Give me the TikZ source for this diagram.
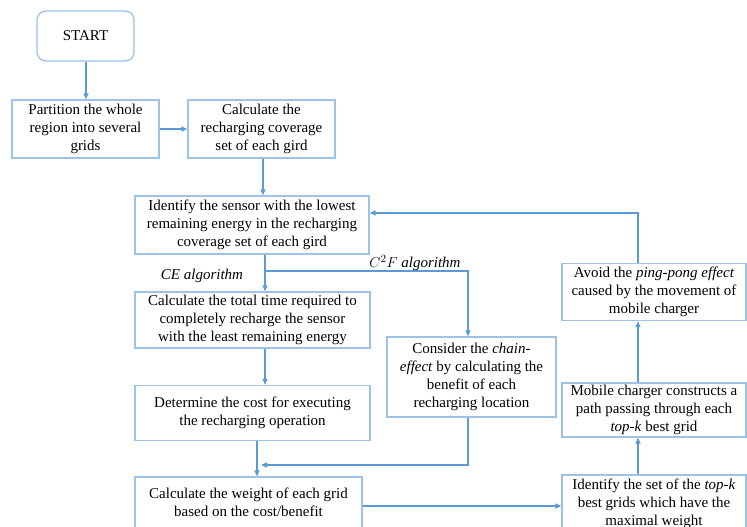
\documentclass[tikz,border=0pt]{standalone}
\usepackage{fontspec}
\setmainfont{Liberation Serif}
\usetikzlibrary{arrows.meta}
\definecolor{boxc}{HTML}{9DC3E6}
\definecolor{arrc}{HTML}{5B9BD5}
\begin{document}
\begin{tikzpicture}[x=1pt,y=-1pt,
  box/.style={draw=boxc,line width=1.3pt,fill=white,align=center,inner sep=1pt,
    font=\fontsize{15}{18}\selectfont},
  conn/.style={draw=arrc,line width=1.4pt},
  arr/.style={conn,-{Triangle[length=6pt,width=5pt]}},
  lab/.style={font=\fontsize{15}{17}\selectfont\itshape}]
\useasboundingbox (0,0) rectangle (747,527);
\clip (0,0) rectangle (747,527);
\fill[white] (0,0) rectangle (747,527);
\node[box,rounded corners=9pt,minimum width=97pt,minimum height=50pt] (start) at (85.5,36) {START};
\node[box,minimum width=147pt,minimum height=58pt] (part) at (85.5,129) {Partition the whole\\region into several\\grids};
\node[box,minimum width=147pt,minimum height=58pt] (cov) at (261.5,129) {Calculate the\\recharging coverage\\set of each gird};
\node[box,minimum width=234pt,minimum height=58pt] (ident) at (252,225) {Identify the sensor with the lowest\\remaining energy in the recharging\\coverage set of each gird};
\node[box,minimum width=235pt,minimum height=56pt] (total) at (252.5,320) {Calculate the total time required to\\completely recharge the sensor\\with the least remaining energy};
\node[box,minimum width=169pt,minimum height=80pt] (consider) at (471.5,377) {Consider the \textit{chain-}\\\textit{effect} by calculating the\\benefit of each\\recharging location};
\node[box,minimum width=235pt,minimum height=55pt] (cost) at (252.5,413) {Determine the cost for executing\\the recharging operation};
\node[box,minimum width=227pt,minimum height=64pt,text depth=14pt] (weight) at (248.5,509) {Calculate the weight of each grid\\based on the cost/benefit};
\node[box,minimum width=184pt,minimum height=58pt] (topk) at (654,504) {Identify the set of the \textit{top-k}\\best grids which have the\\maximal weight};
\node[box,minimum width=184pt,minimum height=54pt] (mobile) at (654,410) {Mobile charger constructs a\\path passing through each\\\textit{top-k} best grid};
\node[box,minimum width=184pt,minimum height=57pt] (avoid) at (654,292) {Avoid the \textit{ping-pong effect}\\caused by the movement of\\mobile charger};
\node[lab] (ce) at (202,276) {CE algorithm};
\node[lab] (cf) at (415,263) {$C^2F$ algorithm};
\coordinate (sx) at (86,0);
\coordinate (cx) at (263,0);
\coordinate (br) at (265,271);
\coordinate (c2) at (468,271);
\coordinate (mg) at (468,465);
\coordinate (mgend) at (261,465);
\coordinate (wx) at (257,0);
\coordinate (wy) at (0,506);
\coordinate (lp) at (638,213);
\draw[arr] (start.south -| sx) -- (part.north -| sx);
\draw[arr] (part) -- (cov);
\draw[arr] (cov.south -| cx) -- (ident.north -| cx);
\draw[conn] (ident.south -| br) -- (br);
\draw[arr] (br) -- (total.north -| br);
\draw[arr] (br) -- (c2) -- (c2 |- consider.north);
\draw[arr] (total.south -| br) -- (cost.north -| br);
\draw[arr] (cost.south -| wx) -- (weight.north -| wx);
\draw[arr] (consider.south -| mg) -- (mg) -- (mgend);
\draw[arr] (weight.east |- wy) -- (topk.west |- wy);
\draw[arr] (topk.north -| lp) -- (mobile.south -| lp);
\draw[arr] (mobile.north -| lp) -- (avoid.south -| lp);
\draw[arr] (avoid.north -| lp) -- (lp) -- (ident.east |- lp);
\end{tikzpicture}
\end{document}
